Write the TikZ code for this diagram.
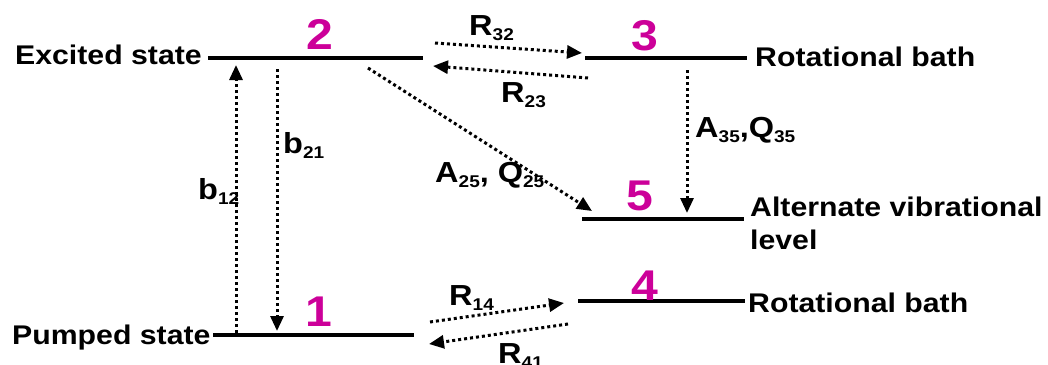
\documentclass[tikz,border=0pt]{standalone}
\usepackage{fontspec}
\setmainfont{Liberation Sans}
\newfontfamily\lblfont{Liberation Sans}[FakeStretch=1.12]
\usetikzlibrary{arrows.meta}
\definecolor{mag}{RGB}{204,0,153}
\newcommand\sbx[1]{\raisebox{-5pt}{\fontsize{17}{17}\selectfont #1}}
\tikzset{
  lvl/.style={line width=4.5pt},
  trans/.style={line width=3pt, dash pattern=on 3pt off 3pt, -{Triangle[length=15pt,width=13pt]}},
  txt/.style={inner sep=0pt, anchor=base west, font=\lblfont\bfseries\fontsize{27}{30}\selectfont},
  rate/.style={inner sep=0pt, anchor=base west, font=\lblfont\bfseries\fontsize{29}{32}\selectfont},
  num/.style={inner sep=0pt, text=mag, font=\lblfont\bfseries\fontsize{43}{46}\selectfont},
}
\begin{document}
\begin{tikzpicture}[x=1pt,y=-1pt]
\useasboundingbox (0,0) rectangle (1048,364);
% level end points
\coordinate (L2w) at (208,58);  \coordinate (L2e) at (423,58);
\coordinate (L3w) at (585,58);  \coordinate (L3e) at (747,58);
\coordinate (L5w) at (582,219); \coordinate (L5e) at (744,219);
\coordinate (L4w) at (578,301); \coordinate (L4e) at (745,301);
\coordinate (L1w) at (213,335); \coordinate (L1e) at (414,335);
\draw[lvl] (L2w) -- (L2e);
\draw[lvl] (L3w) -- (L3e);
\draw[lvl] (L5w) -- (L5e);
\draw[lvl] (L4w) -- (L4e);
\draw[lvl] (L1w) -- (L1e);
% level numbers
\node[num] (n2) at (320,34) {2};
\node[num] (n3) at (645,36) {3};
\node[num] (n5) at (640,196) {5};
\node[num] (n4) at (645,286) {4};
\node[num] (n1) at (319,312) {1};
% state names
\node[txt] (exc) at (15,64) {Excited state};
\node[txt] (rot3) at (755,66) {Rotational bath};
\node[txt] (alt) at (750,216) {Alternate vibrational};
\node[txt] (lev) at (750,249) {level};
\node[txt] (rot4) at (748,312) {Rotational bath};
\node[txt] (pum) at (12,344) {Pumped state};
% transition end points
\coordinate (b12s) at (236,333); \coordinate (b12e) at (236,65);
\coordinate (b21s) at (277,69);  \coordinate (b21e) at (277,331);
\coordinate (r32s) at (435,43);  \coordinate (r32e) at (582,53);
\coordinate (r23s) at (588,78);  \coordinate (r23e) at (433,66);
\coordinate (a25s) at (368,68);  \coordinate (a25e) at (592,211);
\coordinate (a35s) at (687,70);  \coordinate (a35e) at (687,213);
\coordinate (r14s) at (430,322); \coordinate (r14e) at (564,303);
\coordinate (r41s) at (568,324); \coordinate (r41e) at (429,344);
\draw[trans] (b12s) -- (b12e);
\draw[trans] (b21s) -- (b21e);
\draw[trans] (r32s) -- (r32e);
\draw[trans] (r23s) -- (r23e);
\draw[trans] (a25s) -- (a25e);
\draw[trans] (a35s) -- (a35e);
\draw[trans] (r14s) -- (r14e);
\draw[trans] (r41s) -- (r41e);
% rate labels
\node[rate] (lb12) at (198,199) {b\sbx{12}};
\node[rate] (lb21) at (283,153) {b\sbx{21}};
\node[rate] (lr32) at (469,35) {R\sbx{32}};
\node[rate] (lr23) at (501,102) {R\sbx{23}};
\node[rate] (la25) at (435,182) {A\sbx{25}, Q\sbx{25}};
\node[rate] (la35) at (695,137) {A\sbx{35},Q\sbx{35}};
\node[rate] (lr14) at (449,305) {R\sbx{14}};
\node[rate] (lr41) at (498,363) {R\sbx{41}};
\end{tikzpicture}
\end{document}
